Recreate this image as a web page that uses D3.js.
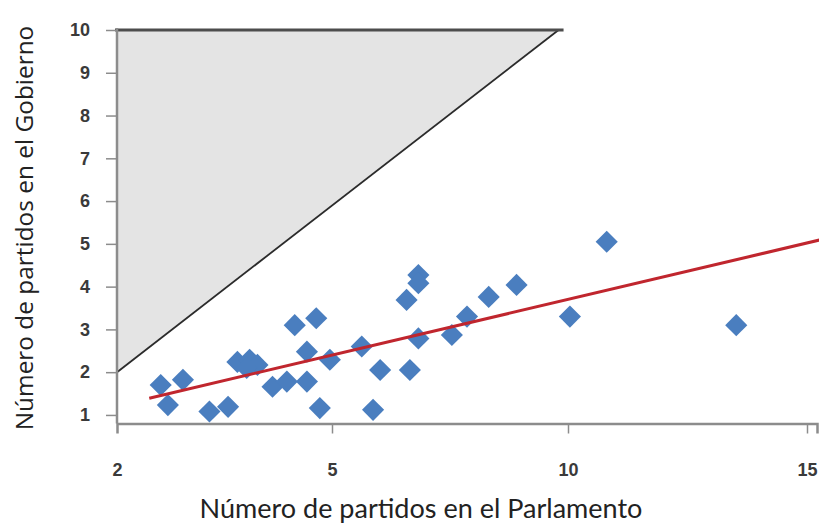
<!DOCTYPE html>
<html><head><meta charset="utf-8">
<script src="https://cdn.jsdelivr.net/npm/d3@7"></script>
<style>body{margin:0;background:#fff}svg{display:block}</style>
</head><body>
<svg id="c" width="819" height="527"></svg>
<script>
// Data
const parlamento = [2.61,2.92,2.71,3.29,3.55,3.68,3.85,3.96,3.81,4.17,4.37,4.65,4.48,4.78,4.65,4.97,4.83,5.63,6.02,5.87,6.65,6.83,6.83,6.58,6.83,7.54,7.86,8.32,8.91,10.81,10.04,13.52];
const gobierno   = [1.70,1.82,1.23,1.08,1.19,2.24,2.29,2.17,2.10,1.66,1.78,1.78,3.10,3.26,2.48,2.29,1.16,2.60,2.05,1.12,2.05,4.27,4.08,3.69,2.79,2.87,3.30,3.76,4.04,5.05,3.30,3.10];
const xTicks = [2,5,10,15];
const yTicks = [1,2,3,4,5,6,7,8,9,10];
const fitX = [2.45,15.25];
const fitY = [1.39,5.09];
const regionX = [2,9.8,2];
const regionY = [2,10,10];
const xTitle = "Número de partidos en el Parlamento";
const yTitle = "Número de partidos en el Gobierno";

const svg = d3.select("#c");
const x = d3.scaleLinear().domain([2,5,10,15,15.2]).range([117,332,568,807,817]);
const y = d3.scaleLinear().domain([0.8,10]).range([423.5,30]);

// shaded region
const region = regionX.map((v,i)=>[x(v),y(regionY[i])]);
svg.append("path").attr("d","M"+region.join("L")+"Z").attr("fill","#e4e4e4");
svg.append("line").attr("x1",x(regionX[0])).attr("y1",y(regionY[0])).attr("x2",x(regionX[1])).attr("y2",y(regionY[1]))
  .attr("stroke","#2b2b2b").attr("stroke-width",1.8);
svg.append("line").attr("x1",x(regionX[2])-2).attr("y1",y(regionY[2])).attr("x2",x(regionX[1])+5).attr("y2",y(regionY[1]))
  .attr("stroke","#4d4d4d").attr("stroke-width",3);

// axes
const gx = svg.append("g").attr("transform",`translate(0,${y(0.8)})`)
  .call(d3.axisBottom(x).tickValues(xTicks).tickSize(10).tickPadding(30).tickFormat(d3.format("d")));
gx.selectAll(".tick line").filter(d=>d===2).remove();
const gy = svg.append("g").attr("transform",`translate(${x(2)},0)`)
  .call(d3.axisLeft(y).tickValues(yTicks).tickSize(11).tickPadding(16).tickFormat(d3.format("d")));
svg.selectAll(".domain").attr("stroke","#8c8c8c").attr("stroke-width",2.5);
svg.selectAll(".tick line").attr("stroke","#8c8c8c").attr("stroke-width",1.5);
svg.selectAll(".tick text").attr("fill","#3a3a3a").attr("font-family","Liberation Sans, sans-serif")
  .attr("font-weight","bold").attr("font-size",18);
gy.select(".domain").attr("d",`M0,${y(0.8)}V${y(10)-2}`);

// points
const sym = d3.symbol().type(d3.symbolSquare).size(245);
svg.append("g").selectAll("path").data(parlamento).join("path")
  .attr("d",sym)
  .attr("transform",(d,i)=>`translate(${x(d)},${y(gobierno[i])}) rotate(45)`)
  .attr("fill","#4a7ebf");

// fit line
svg.append("path").datum(fitX.map((v,i)=>[v,fitY[i]]))
  .attr("d",d3.line().x(d=>x(d[0])).y(d=>y(d[1])))
  .attr("stroke","#c0262e").attr("stroke-width",3).attr("fill","none");

// titles
function fit(t, w, base){
  t.attr("font-size",base);
  const l = t.node().getComputedTextLength();
  t.attr("font-size", base*w/l);
}
const xt = svg.append("text").attr("x",421).attr("y",518).attr("text-anchor","middle")
  .attr("font-family","Lato, sans-serif").attr("fill","#222").text(xTitle);
fit(xt, 443, 27);
const yt = svg.append("text").attr("transform","translate(33,228) rotate(-90)").attr("text-anchor","middle")
  .attr("font-family","Open Sans, sans-serif").attr("fill","#222").text(yTitle);
fit(yt, 405, 22);
</script>
</body></html>
